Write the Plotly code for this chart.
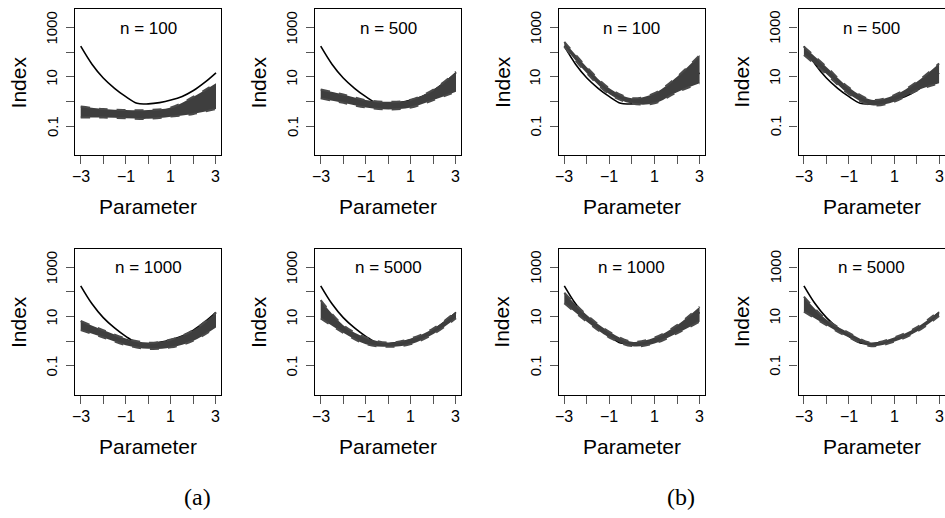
import math
import plotly.graph_objects as go

# Parameter grid for the reference curve and for the replicate bands
param_grid = [-3.0, -2.5, -2.0, -1.5, -1.0, -0.5, 0.0, 0.5, 1.0, 1.5, 2.0, 2.5, 3.0]
band_grid = [-3, -2, -1, 0, 1, 2, 3]

# True index curve (solid black line)
true_index = [178, 33.1, 9.1, 3.47, 1.58, 0.85, 0.81, 0.91, 1.15, 1.62, 2.82, 6.03, 14.8]

# Envelope of the replicate estimates, estimator (a)
a_n100_low = [0.224, 0.224, 0.209, 0.200, 0.245, 0.316, 0.50]
a_n100_high = [0.63, 0.50, 0.457, 0.457, 0.575, 1.58, 5.6]
a_n500_low = [1.35, 0.89, 0.575, 0.479, 0.575, 1.15, 2.51]
a_n500_high = [3.09, 1.95, 1.15, 0.977, 1.20, 3.09, 16.2]
a_n1000_low = [2.82, 1.41, 0.69, 0.49, 0.56, 1.05, 3.63]
a_n1000_high = [6.6, 2.82, 1.29, 0.87, 1.17, 2.82, 14.5]
a_n5000_low = [8.5, 2.19, 0.76, 0.59, 0.76, 1.95, 8.5]
a_n5000_high = [46.8, 4.47, 1.41, 0.87, 1.29, 3.31, 15.8]

# Envelope of the replicate estimates, estimator (b)
b_n100_low = [170, 14.1, 2.0, 0.83, 0.85, 2.4, 5.5]
b_n100_high = [269, 25.1, 3.47, 1.38, 2.19, 10.2, 77.6]
b_n500_low = [77.6, 13.2, 2.0, 0.71, 0.98, 2.75, 5.5]
b_n500_high = [170, 25.7, 3.72, 1.20, 1.82, 6.3, 35.5]
b_n1000_low = [34.7, 6.2, 1.41, 0.63, 0.81, 2.09, 6.2]
b_n1000_high = [93.3, 11.5, 2.4, 0.95, 1.41, 4.47, 25.1]
b_n5000_low = [15.8, 4.47, 1.41, 0.63, 0.95, 2.4, 10.5]
b_n5000_high = [64.6, 7.6, 2.19, 0.87, 1.41, 3.63, 16.6]

x_tickvals = [-3, -2, -1, 0, 1, 2, 3]
x_ticktext = ["\u22123", "", "\u22121", "", "1", "", "3"]
y_tickvals = [0.1, 1, 10, 100, 1000]
y_ticktext = ["0.1", "", "10", "", "1000"]
group_labels = ["(a)", "(b)"]

W, H = 945, 518
FONT = "Liberation Sans, Arial, Helvetica, sans-serif"

# panel boxes in pixels
col_px = [(75.3, 221.4), (315.3, 461.4), (558.9, 705.0), (798.5, 944.5)]
row_px = [(9.3, 155.0), (248.9, 394.6)]

panels = [
    # (row, col, n, low, high)
    (0, 0, 100, a_n100_low, a_n100_high),
    (0, 1, 500, a_n500_low, a_n500_high),
    (1, 0, 1000, a_n1000_low, a_n1000_high),
    (1, 1, 5000, a_n5000_low, a_n5000_high),
    (0, 2, 100, b_n100_low, b_n100_high),
    (0, 3, 500, b_n500_low, b_n500_high),
    (1, 2, 1000, b_n1000_low, b_n1000_high),
    (1, 3, 5000, b_n5000_low, b_n5000_high),
]

fig = go.Figure()
layout = dict(
    width=W, height=H, margin=dict(l=0, r=0, t=0, b=0),
    paper_bgcolor="white", plot_bgcolor="white", showlegend=False,
    font=dict(family=FONT, color="black"),
)
annotations = []

for k, (r, c, n, low, high) in enumerate(panels, start=1):
    xa = "x" if k == 1 else f"x{k}"
    ya = "y" if k == 1 else f"y{k}"
    x0, x1 = col_px[c]
    y0, y1 = row_px[r]
    box_w = x1 - x0
    box_h = y1 - y0

    # true curve first, replicate band drawn over it
    fig.add_trace(go.Scatter(
        x=param_grid, y=true_index, mode="lines", xaxis=xa, yaxis=ya,
        line=dict(color="black", width=1.6, shape="spline"), hoverinfo="skip"))
    fig.add_trace(go.Scatter(
        x=band_grid, y=low, mode="lines", xaxis=xa, yaxis=ya,
        line=dict(color="#4a4a4a", width=2, dash="dash", shape="spline"),
        hoverinfo="skip"))
    fig.add_trace(go.Scatter(
        x=band_grid, y=high, mode="lines", xaxis=xa, yaxis=ya, fill="tonexty",
        fillcolor="#3e3e3e",
        line=dict(color="#4a4a4a", width=2, dash="dash", shape="spline"),
        hoverinfo="skip"))

    axis_common = dict(
        showline=True, mirror=True, linecolor="black", linewidth=1.3,
        showgrid=False, zeroline=False, ticks="outside", ticklen=8,
        tickwidth=1, tickcolor="#555555", showticklabels=False,
    )
    layout["xaxis" if k == 1 else f"xaxis{k}"] = dict(
        axis_common, domain=[x0 / W, x1 / W], anchor=ya,
        range=[-3.24, 3.24], tickmode="array", tickvals=x_tickvals,
    )
    layout["yaxis" if k == 1 else f"yaxis{k}"] = dict(
        axis_common, domain=[1 - y1 / H, 1 - y0 / H], anchor=xa,
        type="log", range=[-2.17, 3.75], tickmode="array",
        tickvals=y_tickvals,
    )

    # x tick labels below the ticks
    for v, t in zip(x_tickvals, x_ticktext):
        if t:
            annotations.append(dict(
                text=t, xref=xa, yref=f"{ya} domain",
                x=v, y=-21.7 / box_h, xanchor="center", yanchor="middle",
                showarrow=False, font=dict(size=16, family=FONT)))

    # vertical y tick labels
    for v, t in zip(y_tickvals, y_ticktext):
        if t:
            annotations.append(dict(
                text=t, xref=f"{xa} domain", yref=ya,
                x=-23.5 / box_w, y=math.log10(v), xanchor="center",
                yanchor="middle", textangle=-90, showarrow=False,
                font=dict(size=15, family=FONT)))

    annotations.append(dict(
        text=f"n = {n}", xref=f"{xa} domain", yref=f"{ya} domain",
        x=0.5, y=1 - 19 / box_h, xanchor="center", yanchor="middle",
        showarrow=False, font=dict(size=17, family=FONT)))
    annotations.append(dict(
        text="Index", xref=f"{xa} domain", yref=f"{ya} domain",
        x=-57 / box_w, y=0.5, xanchor="center", yanchor="middle",
        textangle=-90, showarrow=False, font=dict(size=21, family=FONT)))
    annotations.append(dict(
        text="Parameter", xref=f"{xa} domain", yref=f"{ya} domain",
        x=0.5, y=-52 / box_h, xanchor="center", yanchor="middle",
        showarrow=False, font=dict(size=21, family=FONT)))

for label, px in zip(group_labels, [197, 681]):
    annotations.append(dict(
        text=label, xref="paper", yref="paper", x=px / W, y=1 - 497 / H,
        xanchor="center", yanchor="middle", showarrow=False,
        font=dict(size=24, family="Liberation Serif, DejaVu Serif, serif")))

layout["annotations"] = annotations
fig.update_layout(**layout)
fig.write_html("out.html")
